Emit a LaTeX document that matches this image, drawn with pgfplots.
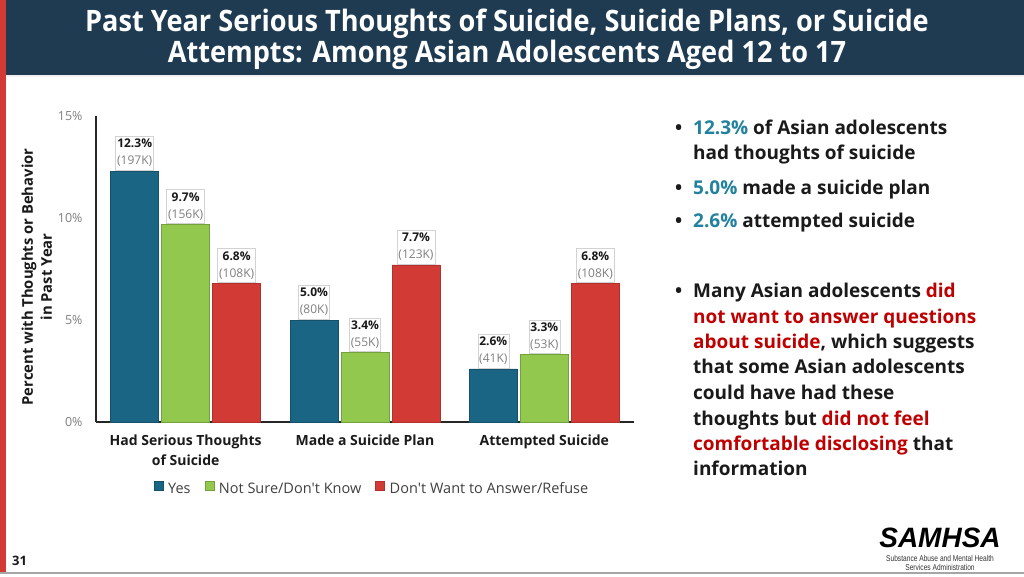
\documentclass[border=0pt]{standalone}
\usepackage{pgfplots}
\pgfplotsset{compat=1.18}
\usepackage{fontspec}
\setmainfont{Open Sans}
\newfontfamily\titlefont{Open Sans}[FakeStretch=0.92]
\newfontfamily\logofont{Liberation Sans}
\newfontfamily\logosmall{Liberation Sans}[FakeStretch=0.78]
\definecolor{navy}{HTML}{1F3B52}
\definecolor{cblue}{HTML}{1B6584}
\definecolor{cgreen}{HTML}{92C84E}
\definecolor{cred}{HTML}{D13A35}
\definecolor{tblue}{HTML}{21819F}
\definecolor{tred}{HTML}{C00000}
\definecolor{dtext}{HTML}{1A1A1A}
\definecolor{gtext}{HTML}{7F7F7F}
\newcommand\lab[2]{\textbf{#1\%}\\{\color{gtext}(#2K)}}
\begin{document}
\begin{tikzpicture}
\begin{scope}[x=1pt,y=1pt]
\path[use as bounding box] (0,0) rectangle (1024,576);
\fill[white] (0,0) rectangle (1024,576);
\fill[navy] (0,576) rectangle (1024,501);
\fill[gray!12] (6,501) rectangle (1024,499);
\fill[cred] (0,4) rectangle (6,576);
\draw[gray!70, line width=1.5pt] (0,3) -- (1024,3);
% title
\node[anchor=base, text=white, font=\titlefont\bfseries\fontsize{29.5}{32}\selectfont, inner sep=0] at (507,544) {Past Year Serious Thoughts of Suicide, Suicide Plans, or Suicide};
\node[anchor=base, text=white, font=\titlefont\bfseries\fontsize{29.5}{32}\selectfont, inner sep=0] at (507,513) {Attempts: Among Asian Adolescents Aged 12 to 17};
% page number
\node[anchor=base west, font=\bfseries\fontsize{13}{15}\selectfont, text=dtext, inner sep=0] at (12,11) {31};
% logo
\node[anchor=base, font=\logofont\bfseries\itshape\fontsize{28}{30}\selectfont, inner sep=0] at (940,29) {SAMHSA};
\node[anchor=base, font=\logosmall\fontsize{8.5}{10}\selectfont, text=black!80, inner sep=0] at (940,15) {Substance Abuse and Mental Health};
\node[anchor=base, font=\logosmall\fontsize{8.5}{10}\selectfont, text=black!80, inner sep=0] at (940,5.5) {Services Administration};
% bullets
\begin{scope}[every node/.style={anchor=base west, inner sep=0, font=\bfseries\fontsize{19}{23}\selectfont, text=dtext}]
\node at (675,441) {\textbullet};
\node at (693,441) {{\color{tblue}12.3\%} of Asian adolescents};
\node at (693,416) {had thoughts of suicide};
\node at (675,381) {\textbullet};
\node at (693,381) {{\color{tblue}5.0\%} made a suicide plan};
\node at (675,348) {\textbullet};
\node at (693,348) {{\color{tblue}2.6\%} attempted suicide};
\node at (675,278) {\textbullet};
\node at (693,278) {Many Asian adolescents {\color{tred}did}};
\node at (693,253) {{\color{tred}not want to answer questions}};
\node at (693,228) {{\color{tred}about suicide}, which suggests};
\node at (693,203) {that some Asian adolescents};
\node at (693,177) {could have had these};
\node at (693,151) {thoughts but {\color{tred}did not feel}};
\node at (693,126) {{\color{tred}comfortable disclosing} that};
\node at (693,101) {information};
\end{scope}
\end{scope}
\begin{axis}[
  at={(96pt,154pt)}, anchor=south west,
  scale only axis, width=538pt, height=306pt,
  xmin=-0.5, xmax=2.5, ymin=0, ymax=15,
  ybar=3pt, bar width=48pt,
  axis lines=left, axis line style={-, line width=1.2pt, black!85},
  major tick length=0pt,
  ytick={0,5,10,15},
  yticklabel={\pgfmathprintnumber{\tick}\%},
  yticklabel style={font=\fontsize{12.5}{14}\selectfont, text=gtext, xshift=-10pt},
  /pgf/number format/assume math mode=true,
  xtick={0,1,2},
  xticklabels={{Had Serious Thoughts\\of Suicide},{Made a Suicide Plan},{Attempted Suicide}},
  xticklabel style={align=center, font=\bfseries\fontsize{14}{20}\selectfont, text=dtext, yshift=-9pt},
  ylabel={Percent with Thoughts or Behavior\\in Past Year},
  ylabel style={at={(axis description cs:-0.11,0.474)}, anchor=center, align=center, font=\bfseries\fontsize{14.8}{19}\selectfont, text=dtext},
  point meta=explicit symbolic,
  nodes near coords,
  every node near coord/.append style={draw=gray!35, fill=white, align=center, inner xsep=1.5pt, inner ysep=3pt, font=\fontsize{12}{17}\selectfont, text=dtext, yshift=1pt},
  legend columns=3,
  legend style={draw=none, at={(0.513,-0.219)}, anchor=center, font=\fontsize{14.5}{16}\selectfont, text=black!75, /tikz/every even column/.append style={column sep=12pt}, /tikz/every odd column/.append style={column sep=3pt}},
  legend image code/.code={\fill[#1] (0pt,-1pt) rectangle (9pt,8pt);},
]
\addplot[fill=cblue, draw=cblue!80!black] coordinates {(0,12.3) [\lab{12.3}{197}] (1,5.0) [\lab{5.0}{80}] (2,2.6) [\lab{2.6}{41}]};
\addplot[fill=cgreen, draw=cgreen!80!black] coordinates {(0,9.7) [\lab{9.7}{156}] (1,3.4) [\lab{3.4}{55}] (2,3.3) [\lab{3.3}{53}]};
\addplot[fill=cred, draw=cred!85!black] coordinates {(0,6.8) [\lab{6.8}{108}] (1,7.7) [\lab{7.7}{123}] (2,6.8) [\lab{6.8}{108}]};
\legend{Yes, Not Sure/Don\textquotesingle t Know, Don\textquotesingle t Want to Answer/Refuse}
\end{axis}
\end{tikzpicture}
\end{document}
